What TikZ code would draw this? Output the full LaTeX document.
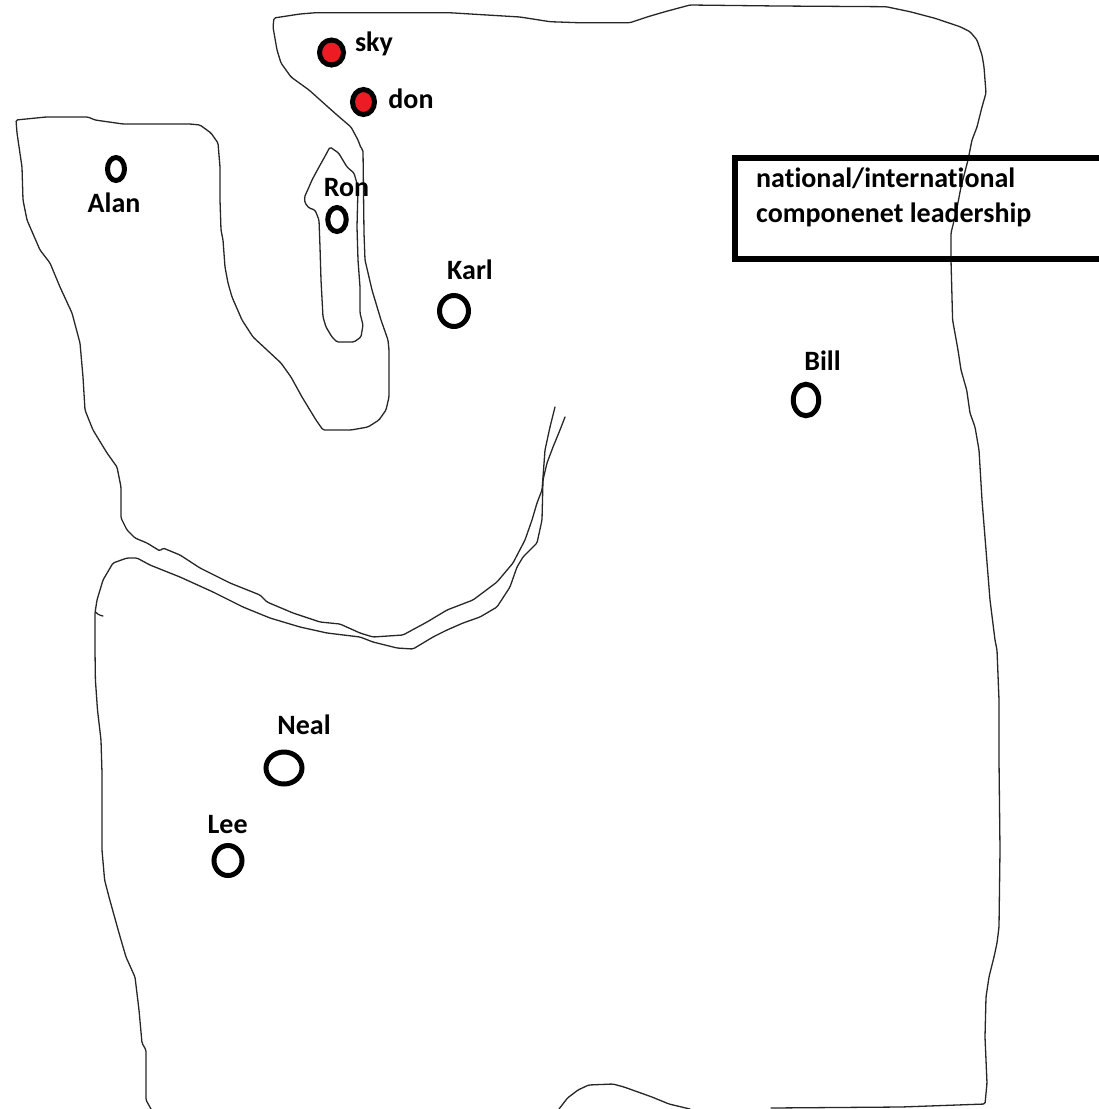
\documentclass[tikz,border=0pt]{standalone}
\usepackage{fontspec}
\setmainfont{Carlito}[Ligatures=NoCommon]
\usetikzlibrary{shapes.geometric}
\definecolor{mspred}{RGB}{237,28,36}
\begin{document}
\begin{tikzpicture}[x=1pt,y=-1pt,
  outline/.style={draw=black!85, line width=1.3pt, line join=round, line cap=round, rounded corners=1.5pt},
  spot/.style={ellipse, draw=black, line width=5pt, inner sep=0pt, outer sep=0pt, fill=white},
  redspot/.style={spot, fill=mspred},
  lbl/.style={font=\fontsize{28}{32}\selectfont\bfseries, anchor=base, inner sep=0pt},
  boxlbl/.style={font=\fontsize{28}{32}\selectfont\bfseries, anchor=base west, inner sep=0pt},
  legendbox/.style={draw=black, line width=6pt, anchor=north west, minimum width=380pt, minimum height=101pt, inner sep=0pt, outer sep=0pt}]
\useasboundingbox (0,0) rectangle (1099,1109);
\clip (0,0) rectangle (1099,1109);

% main outline: upper band, Alan region, channel, upper lobe, right side, bottom
\draw[outline] (555,407) -- (550,427) -- (545,450) -- (543,477) -- (542,490) -- (537,503) -- (532,520) -- (525,540) -- (513,563) -- (497,582) -- (473,600) -- (447,610) -- (427,622) -- (403,635) -- (373,637) -- (360,633) -- (340,624) -- (320,622) -- (293,613) -- (267,602) -- (260,595) -- (230,583) -- (200,568) -- (180,555) -- (163,548) -- (160,551) -- (147,543) -- (135,538) -- (127,530) -- (121,518)
  -- (121,487) -- (117,467) -- (107,453) -- (93,430) -- (85,410) -- (83,377) -- (80,343) -- (72,313) -- (60,287) -- (50,263) -- (40,250) -- (27,220) -- (23,200) -- (22,167) -- (17,133) -- (16,120)
  -- (46,117) -- (88,117) -- (95,120) -- (123,124) -- (190,124) -- (200,125) -- (211,133) -- (218,143) -- (220,167) -- (220,200) -- (221,230) -- (223,240) -- (225,267) -- (228,283) -- (232,297) -- (242,320) -- (253,337) -- (267,350) -- (281,363) -- (291,377) -- (302,397) -- (316,420) -- (323,430)
  -- (351,430) -- (368,427) -- (379,420) -- (386,410) -- (389,397) -- (389,350) -- (388,340) -- (381,320) -- (372,290) -- (365,260) -- (364,233) -- (363,150)
  -- (361,148) -- (358,140) -- (351,127) -- (337,115) -- (328,107) -- (309,90) -- (291,77) -- (281,63) -- (277,50) -- (273,27) -- (274,18)
  -- (300,14) -- (316,12.7) -- (449,12.7) -- (520,17) -- (550,21.7) -- (578,22.7) -- (630,22.7) -- (648,16.7) -- (665,11.7) -- (690,5) -- (778,6) -- (886,6.7) -- (910,11.7) -- (935,18.3) -- (960,26.7) -- (970,31.7) -- (977,40) -- (982,55) -- (984,67) -- (986,93) -- (982,107) -- (977,127) -- (972,140) -- (968,160) -- (961,187) -- (956,213) -- (951,233) -- (951,260) -- (952.6,320) -- (958,350) -- (961,370) -- (966.7,390) -- (970,413) -- (975,427) -- (979,450) -- (982,500) -- (986,550) -- (990,600) -- (995,640) -- (997,650) -- (999,700) -- (999,760) -- (1000,850) -- (999,927) -- (997,943) -- (994,957) -- (989,977) -- (986,997) -- (985,1037) -- (987,1083) -- (985,1104) -- (901,1107) -- (771,1108);

% lower region: left side and lower band
\draw[outline] (151,1109) -- (146,1100) -- (146,1050) -- (142,1043) -- (139,1010) -- (135,977) -- (126,957) -- (119,933) -- (109,897) -- (104.6,880) -- (102,850) -- (102,773) -- (101,740) -- (97.5,710) -- (95.4,680) -- (95,650) -- (95,613) -- (97,600) -- (103,580) -- (113,563) -- (127,558) -- (137,558) -- (150,565) -- (180,577) -- (213,592) -- (243,607) -- (270,618) -- (300,627) -- (327,633) -- (360,637) -- (373,642) -- (397,648) -- (413,649) -- (433,637) -- (447,630) -- (463,623) -- (480,617) -- (497,607) -- (510,587) -- (517,567) -- (523,557) -- (537,543) -- (542,520) -- (543,480) -- (547,463) -- (553,447) -- (560,430) -- (565,417);
\draw[outline] (95.5,612) -- (99,615) -- (103,616);

% bottom hump
\draw[outline] (559,1109) -- (567.5,1098) -- (578,1090) -- (588.6,1085) -- (613,1084) -- (624,1087) -- (638,1092) -- (652,1097) -- (669,1104) -- (690,1109);

% Ron inner shape
\draw[outline] (330,147) -- (338.6,153) -- (347,167) -- (354,173) -- (358,187) -- (357,227) -- (358,260) -- (360,287) -- (360,313) -- (363,325) -- (361,337) -- (354,342) -- (337,342) -- (332,337) -- (326,327) -- (323,317) -- (321,280) -- (320,247) -- (319,220) -- (315,210) -- (309,208) -- (305,203) -- (304.5,197) -- (309,187) -- (312,180) -- (319,167) -- (324.6,157) -- cycle;

% legend box
\node[legendbox] (leader) at (735,157.5) {};
\node[boxlbl] (lead1) at (756,187) {national/international};
\node[boxlbl] (lead2) at (756,222) {componenet leadership};

% people
\node[redspot, minimum width=24pt, minimum height=25pt] (sky) at (331.5,52.5) {};
\node[redspot, minimum width=22pt, minimum height=25pt] (don) at (363.5,102) {};
\node[spot, minimum width=17pt, minimum height=23pt] (alan) at (116,169) {};
\node[spot, minimum width=18.5pt, minimum height=24pt] (ron) at (337,219.5) {};
\node[spot, minimum width=29pt, minimum height=31pt] (karl) at (454,311) {};
\node[spot, minimum width=25.5pt, minimum height=31.5pt] (bill) at (806,400) {};
\node[spot, minimum width=36pt, minimum height=32pt] (neal) at (284,768) {};
\node[spot, minimum width=28pt, minimum height=30pt] (lee) at (228,860.5) {};

\node[lbl] (skyl) at (374,51) {sky};
\node[lbl] (donl) at (411,108.3) {don};
\node[lbl] (alanl) at (114,212.7) {Alan};
\node[lbl] (ronl) at (346.5,196) {Ron};
\node[lbl] (karll) at (470,279) {Karl};
\node[lbl] (billl) at (822.5,370) {Bill};
\node[lbl] (neall) at (304,734.3) {Neal};
\node[lbl] (leel) at (227.6,833.3) {Lee};
\end{tikzpicture}
\end{document}
